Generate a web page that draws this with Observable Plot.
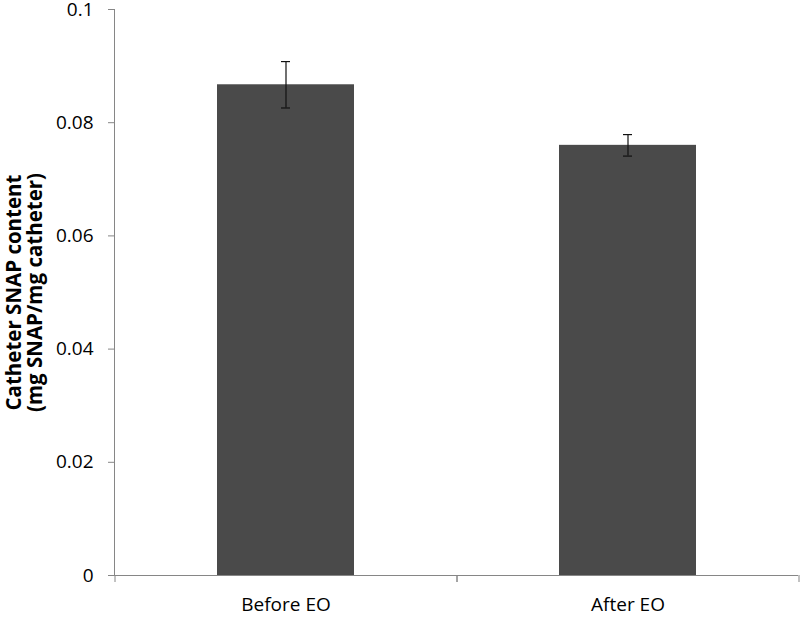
<!DOCTYPE html>
<html>
<head>
<meta charset="utf-8">
<script src="https://cdn.jsdelivr.net/npm/d3@7"></script>
<script src="https://cdn.jsdelivr.net/npm/@observablehq/plot@0.6"></script>
<style>
  html, body { margin: 0; padding: 0; background: #fff; }
  #chart svg { display: block; }
</style>
</head>
<body>
<div id="chart"></div>
<script>
const categories = ["Before EO", "After EO"];
const values = [0.0867, 0.0760];
const errors = [0.0041, 0.0019];
const yTicks = [0, 0.02, 0.04, 0.06, 0.08, 0.1];
const yLabelLines = ["Catheter SNAP content", "(mg SNAP/mg catheter)"];

const data = categories.map((c, i) => ({cat: c, v: values[i], lo: values[i] - errors[i], hi: values[i] + errors[i]}));

const W = 800, H = 617;
const mL = 114, mR = 2, mT = 9, mB = 42;
const half = (W - mL - mR) / categories.length / 2;
const font = "'Open Sans', 'Liberation Sans', sans-serif";
const axisColor = "#868686";

const chart = Plot.plot({
  width: W,
  height: H,
  marginLeft: mL,
  marginRight: mR,
  marginTop: mT,
  marginBottom: mB,
  style: {fontFamily: font, fontSize: "19px", color: "#000", background: "#fff"},
  x: {domain: categories, paddingInner: 0.6, paddingOuter: 0.3, label: null},
  y: {domain: [0, 0.1], label: null},
  marks: [
    Plot.barY(data, {x: "cat", y: "v", fill: "#4a4a4a"}),
    Plot.ruleX(data, {x: "cat", y1: "lo", y2: "hi", stroke: "#111", strokeWidth: 1.2}),
    Plot.tickY(data, {x: "cat", y: "lo", stroke: "#111", strokeWidth: 1.2, insetLeft: 64, insetRight: 64}),
    Plot.tickY(data, {x: "cat", y: "hi", stroke: "#111", strokeWidth: 1.2, insetLeft: 64, insetRight: 64}),
    Plot.ruleY([0], {stroke: axisColor}),
    Plot.frame({anchor: "left", stroke: axisColor}),
    Plot.axisY({ticks: yTicks, tickFormat: d => String(d), tickSize: 6, tickPadding: 15, stroke: axisColor, fill: "#000", fontSize: 19, label: null}),
    Plot.axisX({tickSize: 7, text: null, dx: -half, stroke: axisColor, label: null}),
    Plot.axisX({tickSize: 7, text: null, dx: half, stroke: axisColor, label: null}),
    Plot.axisX({tickSize: 0, tickPadding: 22, fill: "#000", fontSize: 19, label: null}),
    Plot.text([yLabelLines.join("\n")], {frameAnchor: "left", textAnchor: "middle", lineAnchor: "middle", rotate: -90, dx: -90, lineHeight: 1.05, fontWeight: "bold", fontSize: 20.5, fill: "#000"})
  ]
});
document.getElementById("chart").appendChild(chart);
</script>
</body>
</html>
